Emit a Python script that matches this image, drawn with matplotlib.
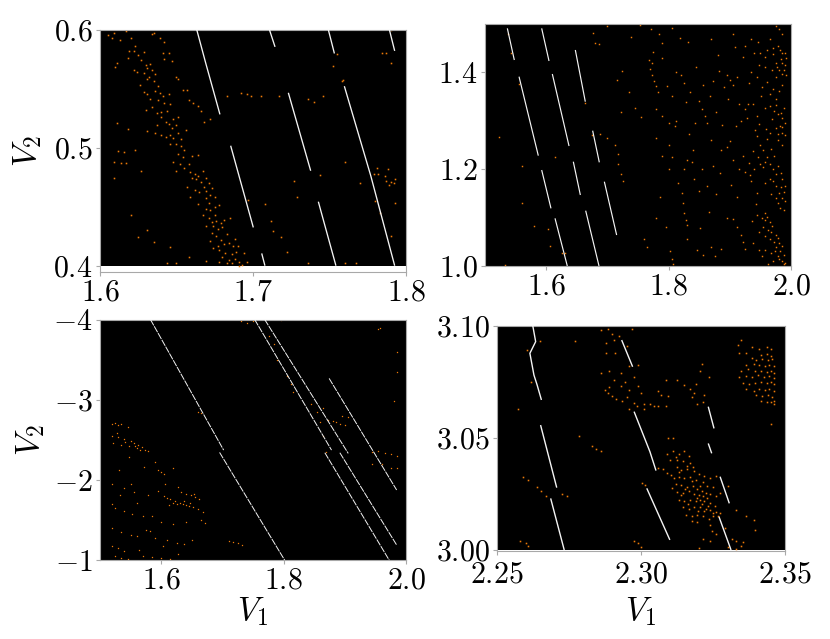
"""Four stability maps over (V1, V2), white lines and orange scatter on black."""
import numpy as np
import matplotlib
matplotlib.use('Agg')
import matplotlib.pyplot as plt
from matplotlib.ticker import FixedFormatter, FixedLocator

plt.rcParams['mathtext.fontset'] = 'cm'
plt.rcParams['font.family'] = ['cmr10', 'DejaVu Sans']
plt.rcParams['axes.formatter.use_mathtext'] = True

# white stripes, each one a list of (V1, V2) vertices
lines_a = [
    [(1.6632, .600), (1.6690, .5720), (1.6784, .5281)],
    [(1.6854, .5016), (1.7002, .4324)],
    [(1.7057, .4104), (1.7078, .400)],
    [(1.7107, .600), (1.7144, .5853)],
    [(1.7231, .5464), (1.7377, .4804)],
    [(1.7427, .4542), (1.7542, .400)],
    [(1.7492, .600), (1.7532, .5797)],
    [(1.7597, .5520), (1.7770, .4760), (1.7926, .400)],
    [(1.7891, .600), (1.7926, .5819)],
]
lines_b = [
    [(1.5365, 1.491), (1.5479, 1.4256)],
    [(1.5556, 1.3912), (1.5871, 1.228)],
    [(1.5926, 1.491), (1.6046, 1.4236)],
    [(1.6100, 1.3967), (1.6373, 1.2479)],
    [(1.5926, 1.1983), (1.6078, 1.1191)],
    [(1.6144, 1.0985), (1.6345, 1.000)],
    [(1.6476, 1.4463), (1.6639, 1.3395)],
    [(1.6759, 1.2796), (1.6868, 1.2142)],
    [(1.6443, 1.2155), (1.6558, 1.1467)],
    [(1.6645, 1.1143), (1.6863, 1.000)],
    [(1.6950, 1.1742), (1.7151, 1.064)],
]
lines_c = [
    [(1.5824, -4.0), (1.702, -2.373)],
    [(1.6954, -2.344), (1.8019, -1.0)],
    [(1.7527, -4.0), (1.8783, -2.373)],
    [(1.7691, -4.0), (1.9056, -2.332)],
    [(1.8674, -2.34), (1.9727, -1.0)],
    [(1.8919, -2.34), (1.9847, -1.191)],
    [(1.8744, -3.266), (1.9847, -1.876)],
]
lines_d = [
    [(2.2625, 3.100), (2.2635, 3.0929), (2.2615, 3.0877), (2.2629, 3.078), (2.2640, 3.0736), (2.2655, 3.0669)],
    [(2.2652, 3.0557), (2.2708, 3.0278)],
    [(2.2687, 3.023), (2.2734, 3.000)],
    [(2.2933, 3.0936), (2.2971, 3.0817)],
    [(2.2976, 3.0617), (2.3031, 3.0438), (2.3052, 3.0354)],
    [(2.3020, 3.0275), (2.3100, 3.0045)],
    [(2.3233, 3.0639), (2.3253, 3.0542)],
    [(2.3233, 3.0475), (2.3245, 3.0431)],
    [(2.3274, 3.0327), (2.3306, 3.0208)],
    [(2.3270, 3.0149), (2.3312, 3.000)],
]

# orange points
orange_a = [
    (1.609, .597), (1.617, .599), (1.635, .597), (1.634, .596), (1.608, .593), (1.613, .591), (1.620, .593),
    (1.639, .593), (1.642, .589), (1.623, .586), (1.619, .582), (1.622, .582), (1.625, .578), (1.629, .581),
    (1.618, .576), (1.641, .580), (1.645, .580), (1.642, .575), (1.647, .573), (1.611, .572), (1.610, .568),
    (1.630, .570), (1.631, .567), (1.633, .571), (1.622, .566), (1.624, .564), (1.629, .563), (1.632, .560),
    (1.636, .562), (1.631, .558), (1.635, .556), (1.638, .552), (1.650, .560), (1.651, .558), (1.654, .549),
    (1.657, .549), (1.629, .547), (1.631, .545), (1.636, .548), (1.639, .546), (1.641, .544), (1.645, .545),
    (1.638, .540), (1.642, .538), (1.634, .534), (1.630, .532), (1.637, .529), (1.640, .530), (1.644, .531),
    (1.640, .526), (1.643, .522), (1.648, .524), (1.651, .526), (1.645, .520), (1.647, .517), (1.650, .519),
    (1.658, .540), (1.661, .538), (1.664, .535), (1.666, .531), (1.672, .524), (1.668, .522), (1.631, .514),
    (1.636, .512), (1.640, .511), (1.643, .509), (1.646, .511), (1.648, .508), (1.651, .512), (1.653, .507),
    (1.650, .503), (1.653, .501), (1.655, .498), (1.651, .495), (1.654, .492), (1.660, .493), (1.664, .494),
    (1.648, .488), (1.652, .486), (1.655, .483), (1.650, .480), (1.659, .479), (1.662, .478), (1.664, .476),
    (1.667, .480), (1.660, .474), (1.663, .473), (1.666, .471), (1.669, .474), (1.671, .470), (1.673, .466),
    (1.662, .464), (1.665, .462), (1.669, .463), (1.672, .460), (1.675, .458), (1.669, .457), (1.671, .453),
    (1.675, .450), (1.678, .451), (1.664, .452), (1.669, .448), (1.672, .447), (1.675, .443), (1.671, .440),
    (1.673, .437), (1.676, .438), (1.679, .436), (1.681, .439), (1.674, .434), (1.677, .431), (1.680, .433),
    (1.685, .440), (1.673, .428), (1.676, .425), (1.679, .422), (1.672, .421), (1.681, .418), (1.684, .419),
    (1.687, .417), (1.690, .417), (1.674, .415), (1.678, .413), (1.682, .411), (1.686, .410), (1.689, .412),
    (1.680, .407), (1.684, .405), (1.688, .406), (1.691, .403), (1.678, .403), (1.686, .402), (1.693, .401),
    (1.696, .403), (1.691, .400), (1.605, .595), (1.612, .497), (1.616, .496), (1.623, .498), (1.614, .487),
    (1.609, .488), (1.617, .487), (1.627, .480), (1.609, .474), (1.618, .516), (1.611, .521), (1.620, .443),
    (1.631, .430), (1.625, .424), (1.635, .420), (1.646, .416), (1.658, .407), (1.669, .404), (1.644, .402),
    (1.650, .402), (1.683, .544), (1.692, .546), (1.696, .545), (1.699, .544), (1.705, .544), (1.717, .544),
    (1.736, .541), (1.740, .539), (1.746, .544), (1.755, .579), (1.758, .556), (1.760, .488), (1.744, .477),
    (1.727, .472), (1.729, .458), (1.697, .456), (1.708, .452), (1.712, .438), (1.713, .429), (1.718, .424),
    (1.722, .412), (1.736, .402), (1.760, .402), (1.767, .402), (1.770, .470), (1.779, .478), (1.781, .483),
    (1.782, .478), (1.786, .476), (1.787, .472), (1.790, .471), (1.792, .470), (1.788, .482), (1.789, .468),
    (1.793, .473), (1.793, .453), (1.780, .455), (1.783, .445), (1.790, .425), (1.784, .580), (1.787, .580),
    (1.790, .572), (1.790, .600), (1.752, .569), (1.759, .557),
    (1.627, .574), (1.634, .566), (1.626, .553), (1.633, .541), (1.646, .537), (1.637, .519), (1.656, .515),
    (1.646, .503), (1.658, .486), (1.657, .467), (1.668, .467), (1.659, .458), (1.667, .443), (1.683, .427),
    (1.677, .417), (1.669, .434), (1.688, .423), (1.694, .411), (1.683, .402),
]
orange_b = [
    (1.538, 1.48), (1.543, 1.440), (1.523, 1.267), (1.555, 1.377), (1.561, 1.206), (1.560, 1.13), (1.533, 1.003),
    (1.580, 1.083), (1.603, 1.076), (1.607, 1.041), (1.626, 1.027), (1.630, 1.026), (1.615, 1.225), (1.663, 1.336),
    (1.675, 1.270), (1.688, 1.272), (1.700, 1.264), (1.712, 1.250), (1.717, 1.232), (1.718, 1.210), (1.722, 1.190),
    (1.725, 1.175), (1.700, 1.496), (1.676, 1.482), (1.680, 1.460), (1.686, 1.458), (1.716, 1.385), (1.724, 1.403),
    (1.735, 1.360), (1.754, 1.497), (1.772, 1.490), (1.785, 1.480), (1.790, 1.460), (1.768, 1.425), (1.773, 1.420),
    (1.770, 1.407), (1.773, 1.395), (1.776, 1.382), (1.780, 1.371), (1.783, 1.360), (1.790, 1.430), (1.812, 1.400),
    (1.820, 1.395), (1.825, 1.378), (1.835, 1.360), (1.850, 1.340), (1.855, 1.325), (1.860, 1.310), (1.780, 1.325),
    (1.790, 1.310), (1.800, 1.295), (1.810, 1.290), (1.862, 1.295), (1.870, 1.260), (1.780, 1.265), (1.790, 1.228),
    (1.800, 1.250), (1.805, 1.225), (1.830, 1.220), (1.838, 1.215), (1.825, 1.200), (1.842, 1.180), (1.862, 1.165),
    (1.800, 1.200), (1.812, 1.300), (1.822, 1.150), (1.823, 1.130), (1.825, 1.110), (1.828, 1.095), (1.830, 1.085),
    (1.802, 1.030), (1.805, 1.015), (1.808, 1.005), (1.760, 1.055), (1.765, 1.040), (1.795, 1.080), (1.780, 1.100),
    (1.870, 1.040), (1.875, 1.020), (1.885, 1.035), (1.895, 1.100), (1.905, 1.098), (1.912, 1.080), (1.918, 1.065),
    (1.922, 1.050), (1.925, 1.035), (1.905, 1.220), (1.915, 1.200), (1.925, 1.195), (1.935, 1.175), (1.945, 1.150),
    (1.910, 1.290), (1.918, 1.300), (1.925, 1.325), (1.930, 1.335), (1.938, 1.335), (1.945, 1.310), (1.890, 1.370),
    (1.895, 1.395), (1.900, 1.385), (1.905, 1.375), (1.912, 1.390), (1.935, 1.400), (1.945, 1.390), (1.952, 1.370),
    (1.960, 1.380), (1.965, 1.355), (1.925, 1.455), (1.935, 1.470), (1.905, 1.480), (1.880, 1.435), (1.870, 1.470),
    (1.940, 1.440), (1.950, 1.440), (1.975, 1.495), (1.980, 1.490), (1.985, 1.480), (1.965, 1.470), (1.970, 1.450),
    (1.978, 1.455), (1.985, 1.440), (1.990, 1.440), (1.992, 1.430), (1.985, 1.420), (1.990, 1.415), (1.975, 1.420),
    (1.980, 1.405), (1.988, 1.405), (1.992, 1.395), (1.975, 1.390), (1.985, 1.375), (1.970, 1.365), (1.975, 1.345),
    (1.965, 1.330), (1.972, 1.320), (1.978, 1.315), (1.985, 1.305), (1.990, 1.295), (1.982, 1.290), (1.975, 1.285),
    (1.985, 1.275), (1.990, 1.270), (1.978, 1.260), (1.985, 1.250), (1.950, 1.250), (1.955, 1.240), (1.960, 1.225),
    (1.965, 1.210), (1.970, 1.200), (1.975, 1.190), (1.985, 1.180), (1.990, 1.165), (1.975, 1.165), (1.980, 1.150),
    (1.985, 1.140), (1.990, 1.135), (1.975, 1.140), (1.982, 1.120), (1.988, 1.115), (1.945, 1.105), (1.952, 1.100),
    (1.958, 1.095), (1.965, 1.090), (1.955, 1.080), (1.962, 1.075), (1.968, 1.070), (1.975, 1.065), (1.965, 1.055),
    (1.972, 1.050), (1.980, 1.048), (1.975, 1.040), (1.982, 1.030), (1.988, 1.022), (1.978, 1.020), (1.985, 1.010),
    (1.990, 1.006), (1.970, 1.010), (1.962, 1.005), (1.952, 1.020), (1.940, 1.200), (1.950, 1.210), (1.955, 1.205),
    (1.965, 1.180), (1.840, 1.240), (1.850, 1.155), (1.830, 1.055), (1.855, 1.200), (1.885, 1.240), (1.895, 1.245),
    (1.971, 1.437), (1.982, 1.447), (1.983, 1.428), (1.977, 1.411), (1.986, 1.397), (1.969, 1.404), (1.958, 1.412),
    (1.981, 1.362), (1.976, 1.333), (1.988, 1.327), (1.983, 1.317), (1.969, 1.303), (1.986, 1.288), (1.979, 1.273),
    (1.944, 1.268), (1.961, 1.262), (1.967, 1.242), (1.972, 1.227), (1.958, 1.214), (1.978, 1.206), (1.984, 1.193),
    (1.971, 1.176), (1.983, 1.164), (1.988, 1.152), (1.968, 1.149), (1.979, 1.131), (1.957, 1.110), (1.961, 1.102),
    (1.969, 1.082), (1.957, 1.063), (1.978, 1.058), (1.986, 1.041), (1.974, 1.031), (1.981, 1.014), (1.988, 1.004),
    (1.909, 1.452), (1.921, 1.432), (1.897, 1.345), (1.915, 1.335), (1.928, 1.305), (1.941, 1.282), (1.901, 1.258),
    (1.921, 1.228), (1.931, 1.212), (1.856, 1.375), (1.844, 1.412), (1.832, 1.462), (1.818, 1.472), (1.806, 1.492),
    (1.775, 1.443), (1.739, 1.473), (1.745, 1.327), (1.755, 1.307), (1.722, 1.318),
    (1.946, 1.462), (1.957, 1.431), (1.961, 1.447), (1.948, 1.416), (1.932, 1.378), (1.951, 1.352), (1.957, 1.327),
    (1.948, 1.293), (1.959, 1.283), (1.966, 1.274), (1.938, 1.238), (1.946, 1.226), (1.933, 1.188), (1.957, 1.172),
    (1.943, 1.128), (1.937, 1.092), (1.948, 1.071), (1.938, 1.048), (1.947, 1.033), (1.958, 1.033), (1.968, 1.026),
    (1.882, 1.402), (1.872, 1.382), (1.868, 1.352), (1.878, 1.318), (1.888, 1.292), (1.873, 1.206), (1.884, 1.192),
    (1.878, 1.148), (1.902, 1.168), (1.912, 1.142), (1.866, 1.112), (1.852, 1.078), (1.846, 1.034), (1.856, 1.022),
    (1.806, 1.352), (1.798, 1.372), (1.829, 1.338), (1.843, 1.296), (1.834, 1.272), (1.815, 1.172), (1.786, 1.142),
]
orange_c = [
    (1.520, -2.70), (1.525, -2.71), (1.530, -2.69), (1.535, -2.70), (1.545, -2.66), (1.520, -2.55), (1.530, -2.53),
    (1.540, -2.51), (1.550, -2.49), (1.555, -2.46), (1.562, -2.44), (1.568, -2.41), (1.573, -2.38), (1.578, -2.36),
    (1.522, -2.46), (1.535, -2.44), (1.548, -2.42), (1.560, -2.40), (1.590, -2.22), (1.595, -2.12), (1.600, -2.10),
    (1.605, -2.08), (1.520, -1.95), (1.540, -1.90), (1.550, -1.95), (1.555, -1.85), (1.595, -1.86), (1.605, -1.80),
    (1.610, -1.78), (1.615, -1.76), (1.620, -1.72), (1.625, -1.70), (1.630, -1.71), (1.635, -1.70), (1.640, -1.69),
    (1.632, -1.85), (1.640, -1.83), (1.648, -1.81), (1.655, -1.79), (1.662, -1.76), (1.668, -1.60), (1.660, -1.64),
    (1.652, -1.66), (1.645, -1.68), (1.520, -1.70), (1.525, -1.65), (1.540, -1.62), (1.552, -1.58), (1.570, -1.55),
    (1.585, -1.55), (1.600, -1.48), (1.620, -1.45), (1.640, -1.48), (1.520, -1.40), (1.535, -1.35), (1.550, -1.32),
    (1.560, -1.30), (1.575, -1.38), (1.590, -1.28), (1.610, -1.25), (1.625, -1.22), (1.638, -1.20), (1.650, -1.25),
    (1.520, -1.18), (1.530, -1.15), (1.540, -1.12), (1.525, -1.05), (1.535, -1.03), (1.545, -1.02), (1.570, -1.05),
    (1.585, -1.04), (1.600, -1.03), (1.615, -1.01), (1.665, -1.50), (1.672, -1.47), (1.710, -1.24), (1.718, -1.23),
    (1.725, -1.21), (1.732, -1.19), (1.620, -2.15), (1.660, -2.85), (1.665, -2.84), (1.740, -3.96), (1.750, -3.98),
    (1.730, -3.98), (1.795, -3.99), (1.776, -3.80), (1.785, -3.70), (1.790, -3.50), (1.805, -3.30), (1.812, -3.20),
    (1.815, -3.10), (1.845, -2.95), (1.855, -2.85), (1.860, -2.72), (1.865, -2.55), (1.870, -2.35), (1.865, -2.90),
    (1.872, -2.75), (1.880, -2.74), (1.885, -2.72), (1.892, -2.70), (1.900, -2.68), (1.895, -2.80), (1.905, -2.78),
    (1.955, -3.88), (1.958, -3.89), (1.985, -3.60), (1.985, -3.35), (1.980, -2.98), (1.945, -2.35), (1.955, -2.36),
    (1.965, -2.34), (1.975, -2.33), (1.985, -2.30), (1.945, -2.20), (1.960, -2.20), (1.975, -2.15), (1.985, -2.15),
    (1.527, -2.58), (1.541, -2.47), (1.557, -2.43), (1.566, -2.37), (1.548, -2.29), (1.531, -2.13), (1.572, -2.16),
    (1.612, -1.69), (1.622, -1.74), (1.637, -1.74), (1.647, -1.72), (1.654, -1.82), (1.627, -1.91), (1.606, -1.95),
    (1.561, -1.72), (1.578, -1.81), (1.533, -1.81), (1.582, -1.36), (1.603, -1.18), (1.563, -1.13), (1.628, -1.08),
]
orange_d = [
    (2.2860, 3.0980), (2.2885, 3.0985), (2.2900, 3.0965), (2.2925, 3.0955), (2.2970, 3.0985), (2.2880, 3.0925),
    (2.2905, 3.0935), (2.2950, 3.0910), (2.2880, 3.0880), (2.2910, 3.0880), (2.2960, 3.0820), (2.2990, 3.0825),
    (2.2860, 3.0790), (2.2890, 3.0800), (2.2930, 3.0790), (2.2905, 3.0760), (2.2945, 3.0750), (2.2975, 3.0770),
    (2.2890, 3.0725), (2.2930, 3.0730), (2.2960, 3.0715), (2.2990, 3.0730), (2.2875, 3.0715), (2.2885, 3.0700),
    (2.2900, 3.0685), (2.2915, 3.0675), (2.2935, 3.0665), (2.2950, 3.0680), (2.2975, 3.0655), (2.3000, 3.0700),
    (2.2960, 3.0630), (2.2985, 3.0640), (2.3010, 3.0650), (2.3010, 3.0630), (2.3030, 3.0650), (2.3045, 3.0640),
    (2.3060, 3.0640), (2.3085, 3.0640), (2.3070, 3.0690), (2.3095, 3.0685), (2.3060, 3.0710), (2.3085, 3.0760),
    (2.3125, 3.0760), (2.3150, 3.0735), (2.3170, 3.0720), (2.3190, 3.0740), (2.3175, 3.0680), (2.3195, 3.0650),
    (2.3215, 3.0660), (2.3185, 3.0700), (2.3220, 3.0690), (2.3235, 3.0770), (2.3210, 3.0830), (2.3205, 3.0800),
    (2.3095, 3.0500), (2.3110, 3.0500), (2.2830, 3.0465), (2.2845, 3.0450), (2.2860, 3.0440), (2.2590, 3.0325),
    (2.2610, 3.0310), (2.2640, 3.0280), (2.2655, 3.0265), (2.2670, 3.0240), (2.2725, 3.0250), (2.2745, 3.0240),
    (2.2580, 3.0040), (2.2600, 3.0030), (2.2610, 3.0020), (2.2975, 3.0040), (2.2990, 3.0030), (2.3000, 3.0015),
    (2.3005, 3.0300), (2.3015, 3.0290), (2.3330, 3.0180), (2.3365, 3.0150), (2.3390, 3.0135), (2.3395, 3.0090),
    (2.2575, 3.0630), (2.2605, 3.0890), (2.2650, 3.0930), (2.2620, 3.0750), (2.2770, 3.0930), (2.2785, 3.0510),
    # central cluster
    (2.3090, 3.0430), (2.3110, 3.0440), (2.3130, 3.0430), (2.3150, 3.0440), (2.3165, 3.0420), (2.3100, 3.0400),
    (2.3125, 3.0400), (2.3145, 3.0395), (2.3170, 3.0390), (2.3060, 3.0365), (2.3075, 3.0360), (2.3090, 3.0345),
    (2.3105, 3.0335), (2.3125, 3.0370), (2.3140, 3.0355), (2.3160, 3.0360), (2.3185, 3.0350), (2.3200, 3.0340),
    (2.3220, 3.0330), (2.3115, 3.0320), (2.3130, 3.0325), (2.3150, 3.0320), (2.3170, 3.0325), (2.3190, 3.0310),
    (2.3215, 3.0305), (2.3240, 3.0320), (2.3260, 3.0330), (2.3120, 3.0295), (2.3140, 3.0290), (2.3160, 3.0280),
    (2.3180, 3.0285), (2.3195, 3.0270), (2.3210, 3.0265), (2.3230, 3.0285), (2.3250, 3.0280), (2.3125, 3.0260),
    (2.3145, 3.0255), (2.3165, 3.0265), (2.3185, 3.0250), (2.3200, 3.0245), (2.3215, 3.0240), (2.3225, 3.0255),
    (2.3240, 3.0250), (2.3260, 3.0240), (2.3130, 3.0225), (2.3150, 3.0220), (2.3170, 3.0225), (2.3190, 3.0220),
    (2.3205, 3.0225), (2.3220, 3.0220), (2.3240, 3.0210), (2.3255, 3.0195), (2.3145, 3.0190), (2.3165, 3.0185),
    (2.3185, 3.0190), (2.3205, 3.0190), (2.3225, 3.0185), (2.3240, 3.0180), (2.3260, 3.0170), (2.3275, 3.0165),
    (2.3155, 3.0155), (2.3175, 3.0150), (2.3195, 3.0155), (2.3215, 3.0150), (2.3235, 3.0140), (2.3250, 3.0150),
    (2.3175, 3.0130), (2.3195, 3.0125), (2.3240, 3.0110), (2.3245, 3.0085), (2.3215, 3.0050), (2.3260, 3.0070),
    (2.3240, 3.0040), (2.3200, 3.0010), (2.3290, 3.0100), (2.3315, 3.0050), (2.3330, 3.0040), (2.3345, 3.0020),
    (2.3355, 3.0035), (2.3330, 3.0005), (2.3300, 3.0015), (2.3275, 3.0255), (2.3300, 3.0285),
    (2.3133, 3.0347), (2.3178, 3.0307), (2.3203, 3.0287), (2.3152, 3.0271), (2.3193, 3.0233), (2.3212, 3.0207),
    (2.3228, 3.0233), (2.3232, 3.0197), (2.3218, 3.0175), (2.3198, 3.0172), (2.3163, 3.0207), (2.3137, 3.0243),
    (2.3108, 3.0277), (2.3248, 3.0163), (2.3268, 3.0153), (2.3123, 3.0415), (2.3158, 3.0375), (2.3181, 3.0372),
    # upper right cluster
    (2.3335, 3.0915), (2.3345, 3.0935), (2.3340, 3.0880), (2.3365, 3.0880), (2.3385, 3.0905), (2.3410, 3.0895),
    (2.3435, 3.0905), (2.3450, 3.0895), (2.3415, 3.0870), (2.3435, 3.0875), (2.3450, 3.0865), (2.3455, 3.0850),
    (2.3385, 3.0855), (2.3400, 3.0845), (2.3420, 3.0850), (2.3440, 3.0845), (2.3365, 3.0825), (2.3390, 3.0830),
    (2.3410, 3.0825), (2.3430, 3.0820), (2.3445, 3.0825), (2.3460, 3.0820), (2.3345, 3.0800), (2.3370, 3.0805),
    (2.3395, 3.0800), (2.3415, 3.0800), (2.3435, 3.0795), (2.3450, 3.0800), (2.3460, 3.0790), (2.3340, 3.0770),
    (2.3365, 3.0775), (2.3385, 3.0770), (2.3405, 3.0780), (2.3425, 3.0770), (2.3445, 3.0775), (2.3460, 3.0765),
    (2.3355, 3.0745), (2.3375, 3.0740), (2.3395, 3.0745), (2.3415, 3.0750), (2.3435, 3.0745), (2.3450, 3.0750),
    (2.3460, 3.0740), (2.3365, 3.0720), (2.3390, 3.0710), (2.3410, 3.0720), (2.3430, 3.0715), (2.3445, 3.0720),
    (2.3460, 3.0710), (2.3400, 3.0690), (2.3420, 3.0685), (2.3440, 3.0690), (2.3455, 3.0680), (2.3460, 3.0665),
    (2.3415, 3.0665), (2.3435, 3.0660), (2.3450, 3.0660), (2.3460, 3.0650), (2.3450, 3.0560),
]

ticks_a = ([1.6, 1.7, 1.8], [0.4, 0.5, 0.6])
ticks_b = ([1.6, 1.8, 2.0], [1.0, 1.2, 1.4])
ticks_c = ([1.6, 1.8, 2.0], [-1, -2, -3, -4])
ticks_d = ([2.25, 2.30, 2.35], [3.00, 3.05, 3.10])
labels_a = (['1.6', '1.7', '1.8'], ['0.4', '0.5', '0.6'])
labels_b = (['1.6', '1.8', '2.0'], ['1.0', '1.2', '1.4'])
labels_c = (['1.6', '1.8', '2.0'], ['-1', '-2', '-3', '-4'])
labels_d = (['2.25', '2.30', '2.35'], ['3.00', '3.05', '3.10'])

W, H = 830, 639
ORANGE = '#ee7a08'
GRAY = '#a8a8a8'


def panel(box, xlim, ylim, ticks, labels, lines, orange, lw, ms, xlabel=None, ylabel=None, gap=0,
          xpad=2, style='-'):
    left, top, right, bottom = box
    ax = plt.axes([left / W, 1 - (bottom + gap) / H, (right - left) / W, (bottom + gap - top) / H])
    # the picture stops a few pixels above the lower spine on some panels
    span = ylim[1] - ylim[0]
    ax.set_xlim(xlim)
    ax.set_ylim(ylim[0] - span * gap / (bottom - top), ylim[1])
    ax.axhspan(ylim[0], ylim[1], color='black', lw=0, zorder=0)
    for seg in lines:
        pts = np.array(seg)
        ax.plot(pts[:, 0], pts[:, 1], color='#f4f4f4', lw=lw, ls=style, dash_capstyle='butt',
                solid_capstyle='butt', zorder=3)
    pts = np.array(orange)
    ax.plot(pts[:, 0], pts[:, 1], ls='none', marker='s', ms=ms, mew=0, color=ORANGE, zorder=2)
    ax.xaxis.set_major_locator(FixedLocator(ticks[0]))
    ax.yaxis.set_major_locator(FixedLocator(ticks[1]))
    ax.xaxis.set_major_formatter(FixedFormatter([f'${s}$' for s in labels[0]]))
    ax.yaxis.set_major_formatter(FixedFormatter([f'${s}$' for s in labels[1]]))
    ax.tick_params(length=3.2, width=0.8, color=GRAY, labelsize=21.5, pad=2)
    ax.tick_params(axis='x', pad=xpad)
    for sp in ax.spines.values():
        sp.set_color(GRAY)
        sp.set_linewidth(0.8)
    if xlabel is not None:
        ax.set_xlabel('$V_1$', fontsize=24, labelpad=xlabel)
    if ylabel is not None:
        ax.set_ylabel('$V_2$', fontsize=24, labelpad=ylabel)
    return ax


fig = plt.figure(figsize=(W / 100, H / 100), dpi=100)
panel((100, 29.5, 406, 265.7), (1.6, 1.8), (0.4, 0.6), ticks_a, labels_a, lines_a, orange_a, 0.95, 1.15,
      ylabel=7, gap=6.5)
panel((485, 24, 791, 266), (1.5, 2.0), (1.0, 1.5), ticks_b, labels_b, lines_b, orange_b, 0.85, 1.05)
panel((100, 319.5, 406, 560.3), (1.5, 2.0), (-1, -4), ticks_c, labels_c, lines_c, orange_c, 0.7, 0.9,
      xlabel=0, ylabel=5, style=(0, (7, 1)))
panel((496.7, 325.7, 785.3, 550), (2.25, 2.35), (3.0, 3.1), ticks_d, labels_d, lines_d, orange_d, 1.0, 1.15,
      xlabel=5, gap=0.7, xpad=4)
fig.savefig('out.png', dpi=100)
